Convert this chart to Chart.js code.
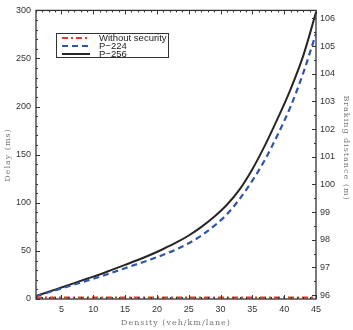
<!doctype html>
<html>
<head>
<title>Delay vs density</title>
<script src="https://cdn.jsdelivr.net/npm/chart.js@4.4.0/dist/chart.umd.min.js"></script>
<style>
  body { margin: 0; background: #fff; }
  #wrap { width: 353px; height: 330px; }
</style>
</head>
<body>
<div id="wrap"><canvas id="mycanvas"></canvas></div>
<script>
// data
var density = [1, 3, 5, 7, 9, 11, 13, 15, 17, 19, 21, 23, 25, 27, 29, 31, 33, 35, 37, 39, 41, 43, 45];
var p256 = [3, 7.5, 12, 16.5, 21, 25.5, 30.5, 35.5, 40.5, 46, 52, 58.5, 66, 75, 85.5, 98, 114, 135, 160, 188, 218, 253, 298];
var p224 = [3, 7, 11, 15, 19, 23, 27.5, 32, 36.5, 41, 46, 51.5, 58, 66, 76, 88, 104, 123, 145, 171, 200, 235, 276];
var noSec = [1.5, 1.5, 1.5, 1.5, 1.5, 1.5, 1.5, 1.5, 1.5, 1.5, 1.5, 1.5, 1.5, 1.5, 1.5, 1.5, 1.5, 1.5, 1.5, 1.5, 1.5, 1.5, 1.5];
var xTicks = [5, 10, 15, 20, 25, 30, 35, 40, 45];
var delayTicks = [0, 50, 100, 150, 200, 250, 300];
var brakeTicks = [96, 97, 98, 99, 100, 101, 102, 103, 104, 105, 106];

function pts(ys) {
  return density.map(function (d, i) { return { x: d, y: ys[i] }; });
}

var series = [
  { label: 'Without security', data: noSec, color: '#e5392b', dash: [6, 3, 2, 3], width: 2 },
  { label: 'P\u2212224', data: p224, color: '#2f56a8', dash: [6, 4], width: 2.2 },
  { label: 'P\u2212256', data: p256, color: '#262626', dash: [], width: 2 }
];

// inside ticks, frame, titles and legend box (matlab look)
var matlabBits = {
  id: 'matlabBits',
  afterDatasetsDraw: function (chart) {
    var ctx = chart.ctx, a = chart.chartArea;
    var sx = chart.scales.x, sy = chart.scales.y, sy2 = chart.scales.y2;
    ctx.save();
    ctx.strokeStyle = '#333';
    ctx.lineWidth = 1;
    ctx.beginPath();
    var v, p, len;
    for (v = 1; v <= 45; v++) {
      p = Math.round(sx.getPixelForValue(v)) + 0.5;
      len = v % 5 === 0 ? 4 : 2;
      ctx.moveTo(p, a.bottom); ctx.lineTo(p, a.bottom - len);
      ctx.moveTo(p, a.top); ctx.lineTo(p, a.top + len);
    }
    for (v = 0; v <= 300; v += 10) {
      p = Math.round(sy.getPixelForValue(v)) + 0.5;
      len = v % 50 === 0 ? 4 : 2;
      ctx.moveTo(a.left, p); ctx.lineTo(a.left + len, p);
    }
    for (v = 96; v <= 106; v += 0.5) {
      p = Math.round(sy2.getPixelForValue(v)) + 0.5;
      len = v % 1 === 0 ? 4 : 2;
      ctx.moveTo(a.right, p); ctx.lineTo(a.right - len, p);
    }
    ctx.stroke();
    ctx.lineWidth = 1.3;
    ctx.strokeRect(a.left, a.top, a.right - a.left, a.bottom - a.top);

    // axis titles
    ctx.fillStyle = '#777';
    ctx.font = '8px "DejaVu Serif", serif';
    ctx.letterSpacing = '1px';
    ctx.textAlign = 'center';
    ctx.textBaseline = 'middle';
    ctx.fillText('Density (veh/km/lane)', 176, 323);
    ctx.save();
    ctx.translate(8, 155);
    ctx.rotate(-Math.PI / 2);
    ctx.fillText('Delay (ms)', 0, 0);
    ctx.restore();
    ctx.save();
    ctx.translate(346, 148);
    ctx.rotate(Math.PI / 2);
    ctx.fillText('Braking distance (m)', 0, 0);
    ctx.restore();
    ctx.letterSpacing = '0px';

    // legend
    ctx.fillStyle = '#fff';
    ctx.fillRect(56, 33, 113, 25);
    ctx.strokeStyle = '#333';
    ctx.lineWidth = 1;
    ctx.strokeRect(56.5, 33.5, 112, 24);
    ctx.font = '9.5px "Liberation Sans", Arial, sans-serif';
    ctx.textAlign = 'left';
    series.forEach(function (s, i) {
      var y = 38 + i * 8;
      ctx.strokeStyle = s.color;
      ctx.lineWidth = s.width;
      ctx.setLineDash(s.dash);
      ctx.beginPath();
      ctx.moveTo(62, y); ctx.lineTo(90, y);
      ctx.stroke();
      ctx.setLineDash([]);
      ctx.fillStyle = '#222';
      ctx.fillText(s.label, 99, y + 0.5);
    });
    ctx.restore();
  }
};

var tickFont = { family: '"Liberation Sans", Arial, sans-serif', size: 9 };

new Chart(document.getElementById('mycanvas'), {
  type: 'line',
  data: {
    datasets: series.map(function (s) {
      return {
        label: s.label,
        data: pts(s.data),
        borderColor: s.color,
        borderDash: s.dash,
        borderWidth: s.width,
        pointRadius: 0,
        cubicInterpolationMode: 'monotone',
        fill: false,
        yAxisID: 'y'
      };
    })
  },
  options: {
    responsive: true,
    maintainAspectRatio: false,
    animation: false,
    layout: { padding: { top: 10 } },
    plugins: { legend: { display: false }, tooltip: { enabled: false } },
    scales: {
      x: {
        type: 'linear', min: 1, max: 45,
        grid: { display: false, drawTicks: false },
        border: { display: false },
        afterBuildTicks: function (s) { s.ticks = xTicks.map(function (v) { return { value: v }; }); },
        afterFit: function (s) { s.height = 31; },
        ticks: { font: tickFont, color: '#333', padding: 5, maxRotation: 0 }
      },
      y: {
        position: 'left', min: 0, max: 300,
        grid: { display: false, drawTicks: false },
        border: { display: false },
        afterBuildTicks: function (s) { s.ticks = delayTicks.map(function (v) { return { value: v }; }); },
        afterFit: function (s) { s.width = 36; },
        ticks: { font: tickFont, color: '#333', padding: 5 }
      },
      y2: {
        position: 'right', min: 95.86, max: 106.29,
        grid: { display: false, drawTicks: false },
        border: { display: false },
        afterBuildTicks: function (s) { s.ticks = brakeTicks.map(function (v) { return { value: v }; }); },
        afterFit: function (s) { s.width = 37; },
        ticks: { font: tickFont, color: '#333', padding: 4 }
      }
    }
  },
  plugins: [matlabBits]
});
</script>
</body>
</html>
